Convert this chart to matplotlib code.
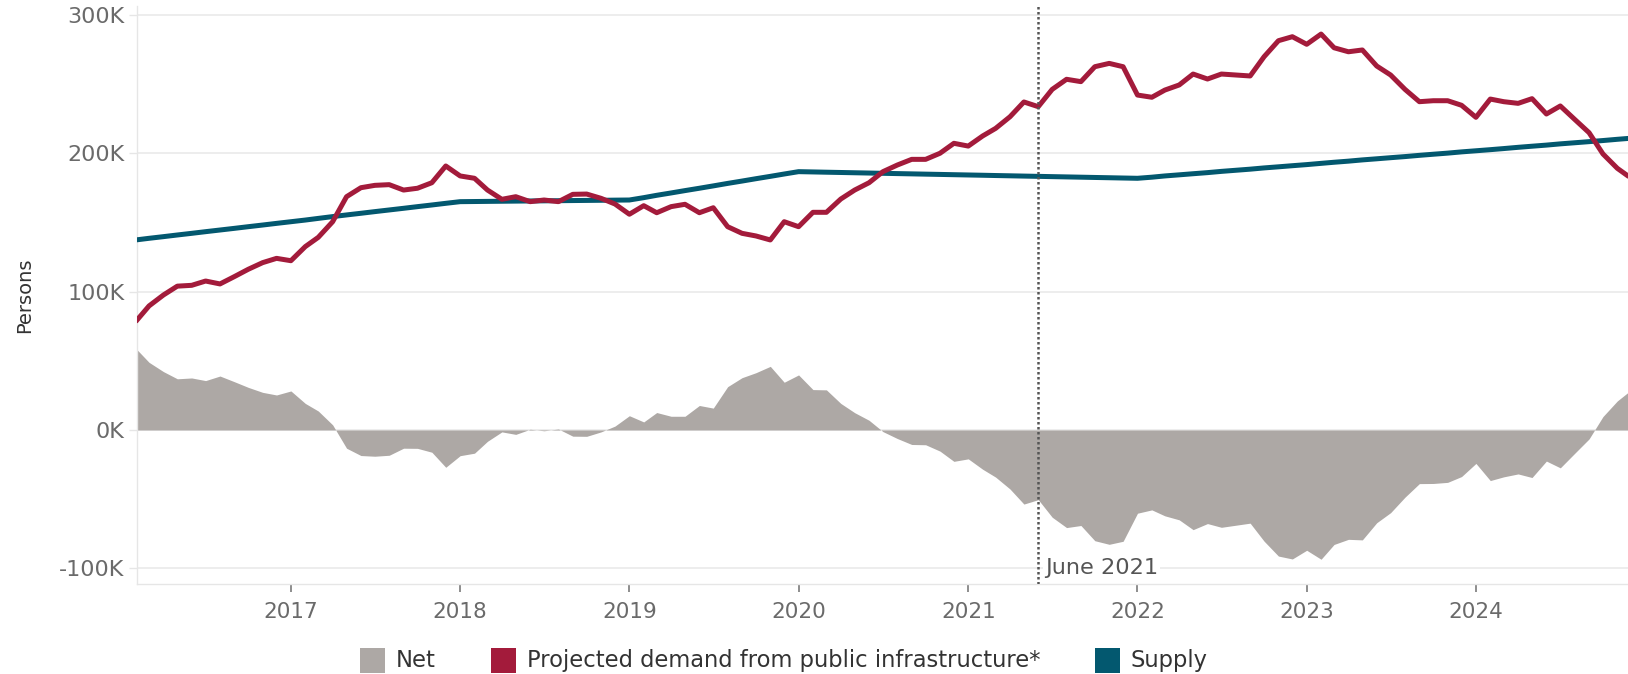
import matplotlib
matplotlib.use("Agg")
import matplotlib.pyplot as plt
from matplotlib.patches import Rectangle
import pandas as pd

# ---------------- data (thousands of persons, monthly from Feb 2016) ----------------
start_month = "2016-02-01"

demand = [78.3, 89.7, 97.6, 104.0, 104.6, 107.7, 105.6, 110.9, 116.2, 121.0, 124.1, 122.4,
          132.6, 139.3, 150.6, 168.7, 175.2, 176.9, 177.4, 173.5, 174.8, 178.8, 190.9, 183.7,
          182.0, 173.5, 166.8, 168.7, 165.1, 166.3, 165.1, 170.4, 170.6, 167.5, 163.4, 156.0,
          162.2, 157.1, 161.5, 163.2, 157.1, 160.7, 147.0, 142.2, 140.3, 137.4, 150.6, 147.0,
          157.4, 157.4, 167.0, 173.5, 178.8, 186.8, 191.6, 195.7, 195.7, 200.1, 207.3, 205.3,
          212.6, 218.1, 226.5, 237.2, 233.8, 246.3, 253.6, 251.9, 262.7, 265.1, 262.7, 242.2,
          240.6, 245.8, 249.5, 257.4, 253.8, 257.4, 256.7, 256.0, 269.9, 281.5, 284.4, 278.9,
          286.3, 276.4, 273.5, 274.8, 263.2, 256.7, 246.3, 237.4, 238.1, 238.1, 234.8, 226.1,
          239.3, 237.4, 236.2, 239.6, 228.5, 234.3, 224.6, 215.0, 199.6, 189.2, 182.0]

supply = [137.4, 138.6, 139.8, 141.0, 142.2, 143.4, 144.6, 145.8, 147.0, 148.2, 149.4, 150.6,
          151.8, 153.0, 154.3, 155.5, 156.7, 157.9, 159.1, 160.3, 161.5, 162.7, 163.9, 165.1,
          165.2, 165.3, 165.4, 165.5, 165.6, 165.7, 165.8, 165.9, 166.0, 166.1, 166.2, 166.3,
          168.0, 169.7, 171.4, 173.1, 174.8, 176.5, 178.3, 180.0, 181.7, 183.4, 185.1, 186.8,
          186.6, 186.4, 186.2, 186.0, 185.8, 185.6, 185.4, 185.2, 185.0, 184.8, 184.6, 184.4,
          184.2, 184.0, 183.8, 183.6, 183.4, 183.2, 183.0, 182.8, 182.6, 182.4, 182.2, 182.0,
          182.8, 183.7, 184.5, 185.3, 186.1, 187.0, 187.8, 188.6, 189.5, 190.3, 191.1, 191.9,
          192.8, 193.6, 194.4, 195.3, 196.1, 196.9, 197.7, 198.6, 199.4, 200.2, 201.1, 201.9,
          202.7, 203.5, 204.4, 205.2, 206.0, 206.9, 207.7, 208.5, 209.3, 210.2, 211.0]

net = [59.1, 48.9, 42.2, 37.0, 37.6, 35.7, 39.0, 34.9, 30.8, 27.2, 25.3, 28.2,
       19.2, 13.7, 3.7, -13.2, -18.5, -19.0, -18.3, -13.2, -13.3, -16.1, -27.0, -18.6,
       -16.8, -8.2, -1.4, -3.2, 0.5, -0.6, 0.7, -4.5, -4.6, -1.4, 2.8, 10.3,
       5.8, 12.6, 9.9, 9.9, 17.7, 15.8, 31.3, 37.8, 41.4, 46.0, 34.5, 39.8,
       29.2, 29.0, 19.2, 12.5, 7.0, -1.2, -6.2, -10.5, -10.7, -15.3, -22.7, -20.9,
       -28.4, -34.1, -42.7, -53.6, -50.4, -63.1, -70.6, -69.1, -80.1, -82.7, -80.5, -60.2,
       -57.8, -62.1, -65.0, -72.1, -67.7, -70.4, -68.9, -67.4, -80.4, -91.2, -93.3, -87.0,
       -93.5, -82.8, -79.1, -79.5, -67.1, -59.8, -48.6, -38.8, -38.7, -37.9, -33.7, -24.2,
       -36.6, -33.9, -31.8, -34.4, -22.5, -27.4, -16.9, -6.5, 9.7, 21.0, 29.0]

y_ticks = [-100, 0, 100, 200, 300]
y_tick_labels = ["-100K", "0K", "100K", "200K", "300K"]
x_tick_years = [2017, 2018, 2019, 2020, 2021, 2022, 2023, 2024]
marker_date = "2021-06-01"
marker_label = "June 2021"
legend_labels = ["Net", "Projected demand from public infrastructure*", "Supply"]

# ---------------- styling ----------------
C_NET = "#ada8a5"
C_DEM = "#a31b3b"
C_SUP = "#03586f"
C_GRID = "#ececec"
C_TICK = "#6a6a6a"
C_TEXT = "#333333"

W, H = 1628, 674
fig = plt.figure(figsize=(W / 100, H / 100), dpi=100)
fig.patch.set_facecolor("white")

ax_l, ax_r, ax_t, ax_b = 137, 1628, 6, 584
ax = fig.add_axes([ax_l / W, 1 - ax_b / H, (ax_r - ax_l) / W, (ax_b - ax_t) / H])

months = pd.date_range(start_month, periods=len(demand), freq="MS")
thousand = 1000.0
dem = [v * thousand for v in demand]
sup = [v * thousand for v in supply]
nt = [v * thousand for v in net]

ax.fill_between(months, 0, nt, color=C_NET, lw=0, zorder=1)
ax.plot(months, sup, color=C_SUP, lw=3.6, zorder=3, solid_capstyle="butt")
ax.plot(months, dem, color=C_DEM, lw=3.6, zorder=4, solid_capstyle="butt")

# marker line
md = pd.Timestamp(marker_date)
ax.axvline(md, color="#555555", lw=1.8, ls=(0, (1.0, 1.0)), zorder=5)
ax.annotate(marker_label, xy=(md, -100 * thousand), xytext=(5, 0), textcoords="offset points",
            ha="left", va="center", fontsize=16.2, color="#555555", zorder=6,
            bbox=dict(facecolor="white", edgecolor="none", pad=1.5))

# axes limits
ax.set_xlim(pd.Timestamp("2016-02-04"), pd.Timestamp("2024-11-24"))
ax.set_ylim(-111.4 * thousand, 306.6 * thousand)

# y axis
ax.set_yticks([v * thousand for v in y_ticks])
ax.set_yticklabels(y_tick_labels)
ax.yaxis.grid(True, color=C_GRID, lw=1.3, zorder=0)
ax.set_axisbelow(True)
ax.tick_params(axis="y", length=6, width=1, color="#e6e6e6", pad=3,
               labelsize=16, labelcolor=C_TICK)

# x axis
ax.set_xticks([pd.Timestamp(f"{y}-01-01") for y in x_tick_years])
ax.set_xticklabels([str(y) for y in x_tick_years])
ax.tick_params(axis="x", length=6, width=1.2, color="#7a7a7a", pad=7,
               labelsize=15.5, labelcolor=C_TICK)

for s in ["top", "right"]:
    ax.spines[s].set_visible(False)
for s in ["left", "bottom"]:
    ax.spines[s].set_color("#e6e6e6")
    ax.spines[s].set_linewidth(1.0)

fig.text(25 / W, 1 - 295 / H, "Persons", rotation=90, ha="center", va="center",
         fontsize=14, color=C_TEXT)

# legend (manual)
leg_colors = [C_NET, C_DEM, C_SUP]
leg_sq_x = [360, 491, 1095]
sq_w, sq_h = 25, 25
sq_top = 648
for lab, col, x0 in zip(legend_labels, leg_colors, leg_sq_x):
    fig.add_artist(Rectangle((x0 / W, 1 - (sq_top + sq_h) / H), sq_w / W, sq_h / H,
                             transform=fig.transFigure, facecolor=col, edgecolor="none"))
    fig.text((x0 + sq_w + 11) / W, 1 - (sq_top + sq_h / 2) / H, lab, ha="left", va="center",
             fontsize=16.3, color=C_TEXT)

fig.savefig("out.png", dpi=100, facecolor="white")
